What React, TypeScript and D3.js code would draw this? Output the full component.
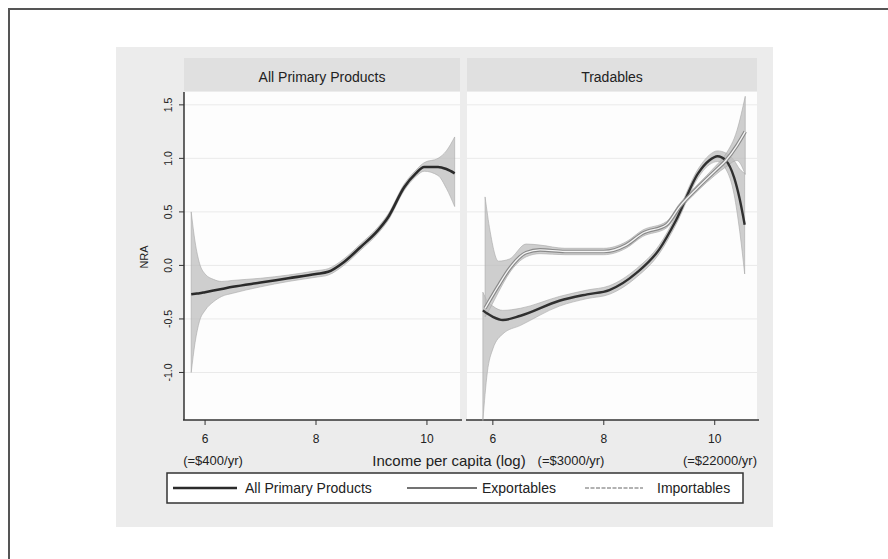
import React from "react";
import * as d3 from "d3";

// x = log income per capita, y = NRA, lo/hi = confidence band
const allPrimaryX = [5.75, 5.82, 5.9, 6.0, 6.15, 6.3, 6.5, 7.0, 7.5, 8.0, 8.22, 8.5, 8.8, 9.12, 9.3, 9.59, 9.8, 9.95, 10.2, 10.35, 10.5];
const allPrimaryY = [-0.27, -0.265, -0.26, -0.25, -0.235, -0.22, -0.2, -0.16, -0.12, -0.08, -0.06, 0.03, 0.17, 0.33, 0.45, 0.73, 0.86, 0.92, 0.92, 0.9, 0.86];
const allPrimaryLo = [-1.0, -0.72, -0.52, -0.42, -0.34, -0.29, -0.26, -0.2, -0.15, -0.11, -0.09, 0.0, 0.14, 0.3, 0.42, 0.7, 0.83, 0.88, 0.84, 0.72, 0.55];
const allPrimaryHi = [0.5, 0.22, 0.02, -0.08, -0.13, -0.15, -0.14, -0.12, -0.09, -0.05, -0.03, 0.06, 0.2, 0.36, 0.48, 0.76, 0.89, 0.96, 1.0, 1.07, 1.2];

const exportX = [5.82, 5.9, 6.0, 6.18, 6.5, 7.2, 7.7, 8.1, 8.59, 9.0, 9.3, 9.7, 9.9, 10.05, 10.2, 10.35, 10.45, 10.54];
const exportY = [-0.42, -0.45, -0.48, -0.51, -0.47, -0.33, -0.27, -0.23, -0.07, 0.15, 0.42, 0.86, 0.98, 1.02, 0.98, 0.82, 0.62, 0.38];
const exportLo = [-1.45, -1.0, -0.78, -0.64, -0.56, -0.38, -0.31, -0.27, -0.11, 0.11, 0.38, 0.82, 0.94, 0.97, 0.9, 0.66, 0.32, -0.08];
const exportHi = [-0.25, -0.33, -0.38, -0.42, -0.4, -0.29, -0.23, -0.19, -0.03, 0.19, 0.46, 0.9, 1.03, 1.07, 1.05, 0.98, 0.9, 0.86];

const importX = [5.86, 5.95, 6.1, 6.3, 6.6, 6.85, 7.3, 8.0, 8.4, 8.7, 9.13, 9.37, 9.7, 10.0, 10.2, 10.4, 10.55];
const importY = [-0.4, -0.32, -0.19, -0.03, 0.12, 0.145, 0.13, 0.13, 0.19, 0.3, 0.38, 0.55, 0.73, 0.88, 0.98, 1.12, 1.25];
const importLo = [-0.48, -0.4, -0.25, -0.07, 0.08, 0.11, 0.1, 0.1, 0.16, 0.27, 0.35, 0.52, 0.7, 0.84, 0.92, 0.98, 0.85];
const importHi = [0.64, 0.32, 0.04, 0.06, 0.2, 0.19, 0.16, 0.16, 0.22, 0.33, 0.41, 0.58, 0.76, 0.92, 1.04, 1.26, 1.58];

const yTicks = [-1.0, -0.5, 0.0, 0.5, 1.0, 1.5];
const xTicks = [6, 8, 10];
const panelTitles = ["All Primary Products", "Tradables"];
const legendLabels = ["All Primary Products", "Exportables", "Importables"];

type Pt = { x: number; y: number; lo: number; hi: number };
const zip = (xs: number[], ys: number[], lo: number[], hi: number[]): Pt[] =>
  xs.map((x, i) => ({ x, y: ys[i], lo: lo[i], hi: hi[i] }));

const allPrimary = zip(allPrimaryX, allPrimaryY, allPrimaryLo, allPrimaryHi);
const exportables = zip(exportX, exportY, exportLo, exportHi);
const importables = zip(importX, importY, importLo, importHi);

const font = "'Liberation Sans', Arial, sans-serif";

export default function App() {
  const top = 92;
  const bottom = 420;
  const y = d3.scaleLinear().domain([-1.444, 1.62]).range([bottom, top]);
  const xL = d3.scaleLinear().domain([5.62, 10.65]).range([184, 463]);
  const xR = d3.scaleLinear().domain([5.57, 10.78]).range([469, 758]);

  const lineOf = (x: d3.ScaleLinear<number, number>) =>
    d3.line<Pt>().x((d) => x(d.x)).y((d) => y(d.y)).curve(d3.curveMonotoneX);
  const areaOf = (x: d3.ScaleLinear<number, number>) =>
    d3.area<Pt>().x((d) => x(d.x)).y0((d) => y(d.lo)).y1((d) => y(d.hi)).curve(d3.curveMonotoneX);

  const panels = [
    { x: xL, left: 184, right: 460, title: panelTitles[0] },
    { x: xR, left: 467, right: 757, title: panelTitles[1] },
  ];

  const band = { fill: "#bdbdbd", fillOpacity: 0.75, stroke: "#a8a8a8", strokeWidth: 0.6 };

  return (
    <svg width={888} height={559} style={{ position: "absolute", left: 0, top: 0 }} fontFamily={font}>
      <rect x={0} y={0} width={888} height={559} fill="#fff" />
      <rect x={9} y={9} width={900} height={600} fill="none" stroke="#555" strokeWidth={2} />
      <rect x={116} y={47} width={657} height={480} fill="#ececec" />

      {panels.map((p, i) => (
        <g key={i}>
          <rect x={p.left} y={58} width={p.right - p.left} height={33} fill="#e0e0e0" />
          <text x={(p.left + p.right) / 2} y={82} textAnchor="middle" fontSize={14} fill="#222">
            {p.title}
          </text>
          <rect x={p.left} y={top} width={p.right - p.left} height={bottom - top} fill="#fdfdfd" />
          {yTicks.map((t) => (
            <line key={t} x1={p.left} x2={p.right} y1={y(t)} y2={y(t)} stroke="#eaeaea" strokeWidth={1} />
          ))}
          {xTicks.map((t) => (
            <g key={t}>
              <line x1={p.x(t)} x2={p.x(t)} y1={bottom} y2={bottom + 5} stroke="#333" />
              <text x={p.x(t)} y={443} textAnchor="middle" fontSize={12} fill="#222">
                {t}
              </text>
            </g>
          ))}
          <line x1={p.left - 1} x2={p.right + 2} y1={bottom} y2={bottom} stroke="#333" strokeWidth={1.5} />
        </g>
      ))}

      {/* y axis */}
      <line x1={184} x2={184} y1={top} y2={bottom} stroke="#333" strokeWidth={1.5} />
      {yTicks.map((t) => (
        <g key={t}>
          <line x1={179} x2={184} y1={y(t)} y2={y(t)} stroke="#333" />
          <text
            transform={`translate(172,${y(t)}) rotate(-90)`}
            textAnchor="middle"
            fontSize={10.5}
            fill="#222"
          >
            {t.toFixed(1)}
          </text>
        </g>
      ))}
      <text transform={`translate(148,257) rotate(-90)`} textAnchor="middle" fontSize={11} fill="#222">
        NRA
      </text>

      {/* left panel */}
      <path d={areaOf(xL)(allPrimary) ?? ""} {...band} />
      <path d={lineOf(xL)(allPrimary) ?? ""} fill="none" stroke="#2b2b2b" strokeWidth={2.6} />

      {/* right panel */}
      <path d={areaOf(xR)(exportables) ?? ""} {...band} />
      <path d={areaOf(xR)(importables) ?? ""} {...band} />
      <path d={lineOf(xR)(exportables) ?? ""} fill="none" stroke="#303030" strokeWidth={2.4} />
      <path d={lineOf(xR)(importables) ?? ""} fill="none" stroke="#8a8a8a" strokeWidth={3.6} />
      <path d={lineOf(xR)(importables) ?? ""} fill="none" stroke="#f4f4f4" strokeWidth={1.3} />

      {/* x labels */}
      <text x={213} y={465} textAnchor="middle" fontSize={13} fill="#222">(=$400/yr)</text>
      <text x={449} y={466} textAnchor="middle" fontSize={15} fill="#222">Income per capita (log)</text>
      <text x={571} y={465} textAnchor="middle" fontSize={13} fill="#222">(=$3000/yr)</text>
      <text x={720} y={465} textAnchor="middle" fontSize={13} fill="#222">(=$22000/yr)</text>

      {/* legend */}
      <rect x={167} y={473} width={576} height={30} fill="#fff" stroke="#333" strokeWidth={1.5} />
      <line x1={173} x2={237} y1={488} y2={488} stroke="#2b2b2b" strokeWidth={2.4} />
      <text x={245} y={493} fontSize={14} fill="#222">{legendLabels[0]}</text>
      <line x1={407} x2={477} y1={488} y2={488} stroke="#444" strokeWidth={1.6} />
      <text x={482} y={493} fontSize={14} fill="#222">{legendLabels[1]}</text>
      <line x1={585} x2={643} y1={488} y2={488} stroke="#999" strokeWidth={1.6} strokeDasharray="4 1.5" />
      <text x={657} y={493} fontSize={14} fill="#222">{legendLabels[2]}</text>
    </svg>
  );
}
